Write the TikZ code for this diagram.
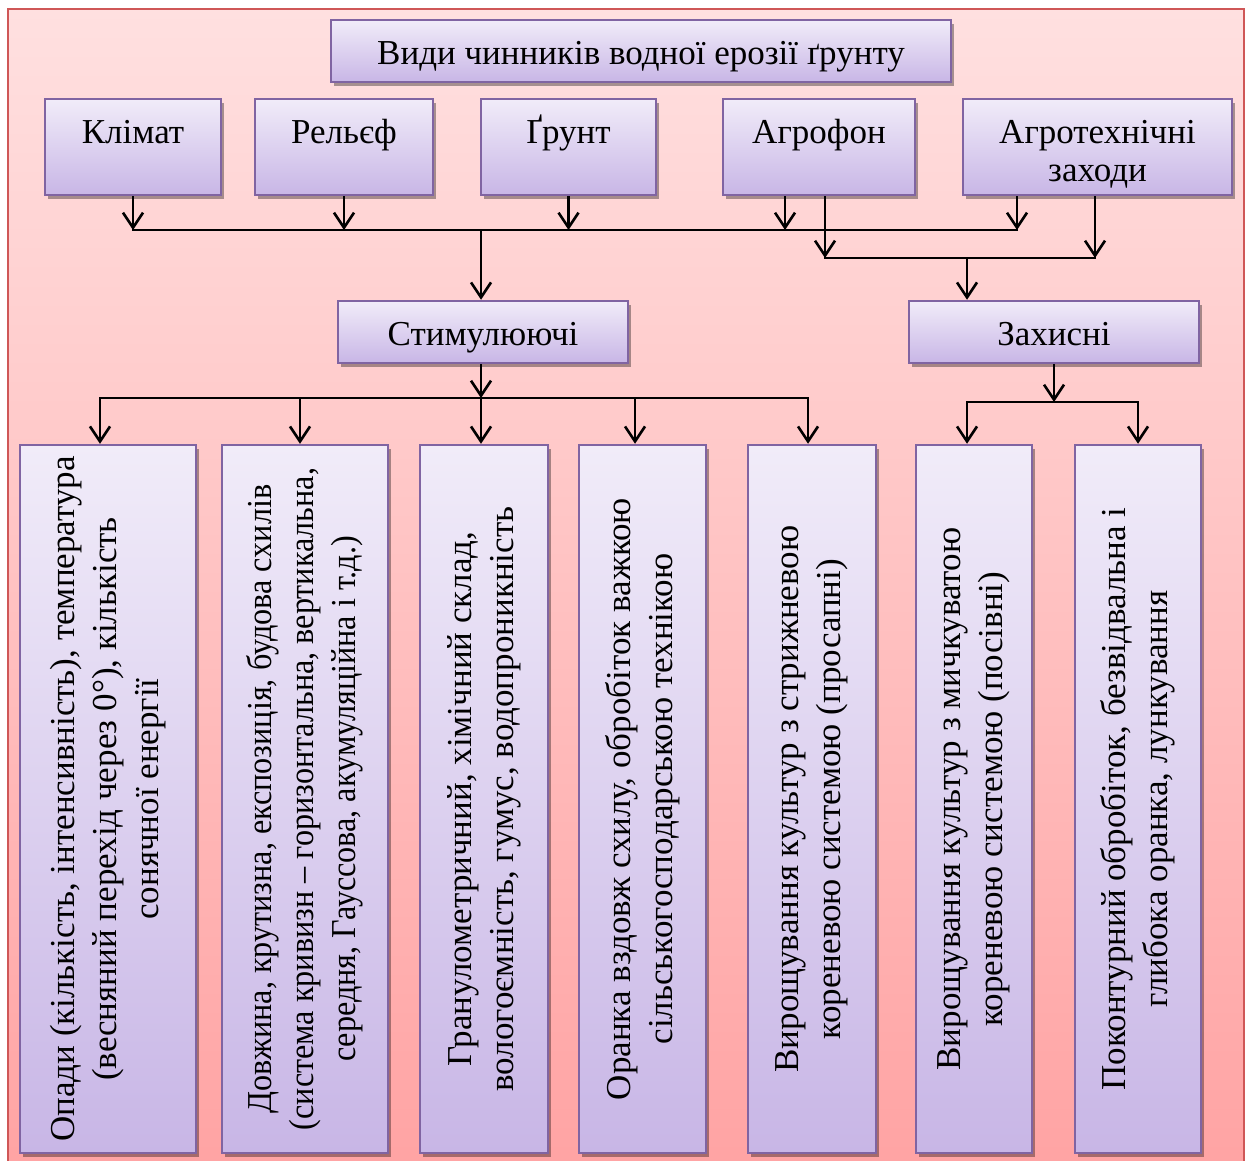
\documentclass[tikz,border=0pt]{standalone}
\usepackage{fontspec}
\setmainfont{Liberation Serif}
\newfontfamily\condfont[FakeStretch=0.92]{Liberation Serif}
\usetikzlibrary{arrows.meta,shadows}
\definecolor{bgT}{HTML}{FFE0E0}
\definecolor{bgB}{HTML}{FFA3A3}
\definecolor{frameC}{HTML}{CF5757}
\definecolor{boxT}{HTML}{F1ECF9}
\definecolor{boxB}{HTML}{C8B6E6}
\definecolor{boxD}{HTML}{8064A2}
\newcommand\bigfont{\fontsize{35}{42}\selectfont}
\begin{document}
\begin{tikzpicture}[x=1pt,y=-1pt,
  box/.style={draw=boxD, line width=2.5pt, top color=boxT, bottom color=boxB,
    drop shadow={shadow xshift=3pt, shadow yshift=-4pt, fill=black, opacity=0.35},
    inner sep=0pt, font=\bigfont},
  topbox/.style={box, minimum height=96pt, text height=44pt, text depth=52pt},
  midbox/.style={box, minimum height=62pt, text height=44pt, text depth=18pt},
  vbox/.style={box, minimum height=708pt},
  vtext/.style={rotate=90, align=center, font=\bigfont, inner sep=0pt},
  ln/.style={line width=2.6pt, line cap=rect},
  arr/.style={line width=2.6pt, -{Straight Barb[length=15pt,width=20pt]}}]
\useasboundingbox (0,0) rectangle (1248,1160);
\clip (0,0) rectangle (1248,1160);
\shade[top color=bgT, bottom color=bgB] (8,9) rectangle (1244,1175);
\draw[frameC, line width=2.5pt] (8,9) rectangle (1244,1175);

% title
\node[midbox, minimum width=620pt] (title) at (641,51) {Види чинників водної ерозії ґрунту};

% factors
\node[topbox, minimum width=176pt] (klimat) at (133,147) {Клімат};
\node[topbox, minimum width=178pt] (relief) at (344,147) {Рельєф};
\node[topbox, minimum width=175pt] (grunt) at (568.5,147) {Ґрунт};
\node[topbox, minimum width=192pt] (agrofon) at (819,147) {Агрофон};
\node[topbox, minimum width=269pt] (agrotech) at (1097.5,147)
  {\fontsize{35}{38}\selectfont\begin{tabular}[t]{@{}c@{}}Агротехнічні\\заходи\end{tabular}};

% groups
\node[midbox, minimum width=290pt] (stim) at (483,332) {Стимулюючі};
\node[midbox, minimum width=290pt] (zakh) at (1054,332) {Захисні};

% bottom boxes
\node[vbox, minimum width=176pt] (b1) at (108,799) {};
\node[vbox, minimum width=166pt] (b2) at (305,799) {};
\node[vbox, minimum width=128pt] (b3) at (484,799) {};
\node[vbox, minimum width=127pt] (b4) at (642.5,799) {};
\node[vbox, minimum width=128pt] (b5) at (812,799) {};
\node[vbox, minimum width=116pt] (b6) at (974,799) {};
\node[vbox, minimum width=126pt] (b7) at (1138,799) {};

\node[vtext] (t1) at (b1) {Опади (кількість, інтенсивність), температура\\(весняний перехід через 0°), кількість\\сонячної енергії};
\node[vtext, font=\condfont\bigfont] (t2) at (b2) {Довжина, крутизна, експозиція, будова схилів\\(система кривизн – горизонтальна, вертикальна,\\середня, Гауссова, акумуляційна і т.д.)};
\node[vtext] (t3) at (b3) {Гранулометричний, хімічний склад,\\вологоємність, гумус, водопроникність};
\node[vtext] (t4) at (b4) {Оранка вздовж схилу, обробіток важкою\\сільськогосподарською технікою};
\node[vtext] (t5) at (b5) {Вирощування культур з стрижневою\\кореневою системою (просапні)};
\node[vtext] (t6) at (b6) {Вирощування культур з мичкуватою\\кореневою системою (посівні)};
\node[vtext] (t7) at (b7) {Поконтурний обробіток, безвідвальна і\\глибока оранка, лункування};

% top buses
\coordinate (tbus) at (0,230);
\coordinate (af1) at (785,230);
\coordinate (af2) at (825,258);
\coordinate (at1) at (1017,230);
\coordinate (at2) at (1095,258);
\coordinate (s0) at (481,230);
\coordinate (z0) at (967,258);
\draw[arr] (klimat.south) -- (klimat.south |- tbus);
\draw[arr] (relief.south) -- (relief.south |- tbus);
\draw[arr] (grunt.south) -- (grunt.south |- tbus);
\draw[arr] (agrofon.south -| af1) -- (af1);
\draw[arr] (agrotech.south -| at1) -- (at1);
\draw[arr] (agrofon.south -| af2) -- (af2);
\draw[arr] (agrotech.south -| at2) -- (at2);
\draw[ln] (klimat.south |- tbus) -- (at1);
\draw[ln] (af2) -- (at2);
\draw[arr] (s0) -- (stim.north -| s0);
\draw[arr] (z0) -- (zakh.north -| z0);

% stimulating bus
\coordinate (sb1) at (100,398);
\coordinate (sb2) at (300,398);
\coordinate (sb3) at (481,398);
\coordinate (sb4) at (635,398);
\coordinate (sb5) at (808,398);
\draw[arr] (stim.south -| sb3) -- (sb3);
\draw[ln] (sb1) -- (sb5);
\draw[arr] (sb1) -- (b1.north -| sb1);
\draw[arr] (sb2) -- (b2.north -| sb2);
\draw[arr] (sb3) -- (b3.north -| sb3);
\draw[arr] (sb4) -- (b4.north -| sb4);
\draw[arr] (sb5) -- (b5.north -| sb5);

% protective bus
\coordinate (zb1) at (967,402);
\coordinate (zb2) at (1138,402);
\draw[arr] (zakh.south) -- (zakh.south |- zb1);
\draw[ln] (zb1) -- (zb2);
\draw[arr] (zb1) -- (b6.north -| zb1);
\draw[arr] (zb2) -- (b7.north -| zb2);
\end{tikzpicture}
\end{document}
